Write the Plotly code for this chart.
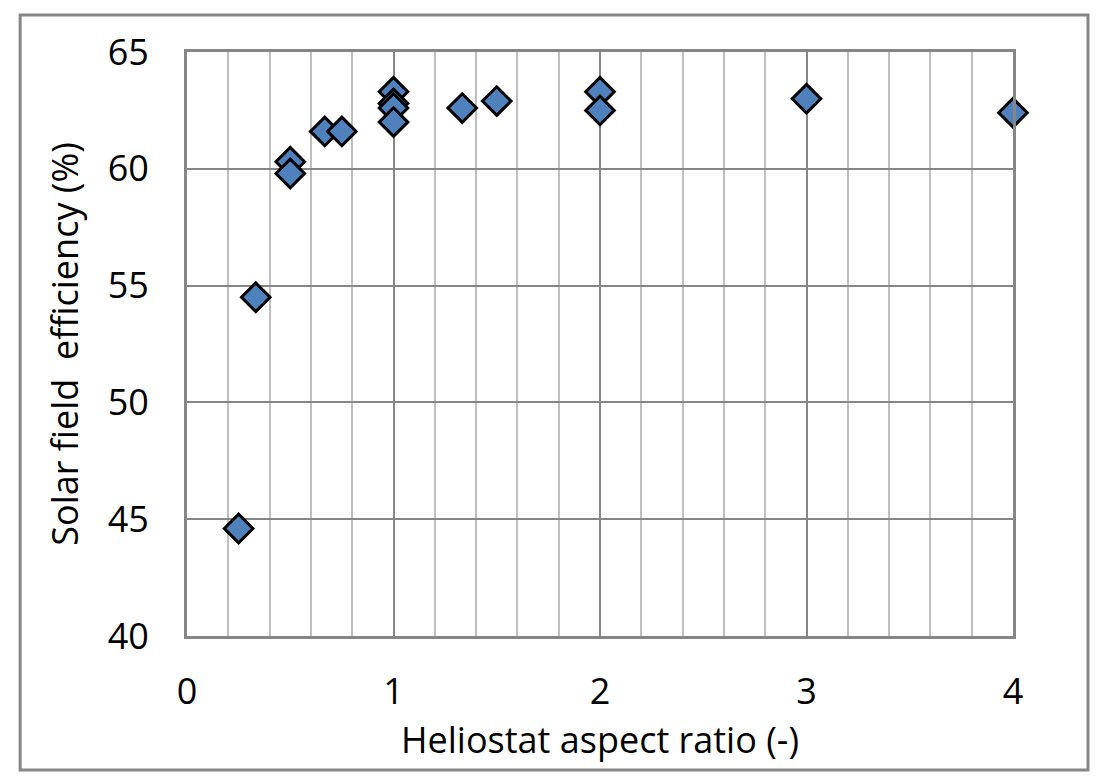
import plotly.graph_objects as go

# heliostat aspect ratio (-) vs solar field efficiency (%)
aspect_ratio = [0.25, 0.333, 0.5, 0.5, 0.667, 0.75, 1.0, 1.0, 1.0, 1.0, 1.333, 1.5, 2.0, 2.0, 3.0, 4.0]
efficiency = [44.6, 54.5, 60.3, 59.8, 61.6, 61.6, 63.3, 62.8, 62.6, 62.0, 62.6, 62.9, 63.3, 62.5, 63.0, 62.4]

x_ticks = [0, 1, 2, 3, 4]
y_ticks = [40, 45, 50, 55, 60, 65]

FONT = "Open Sans"
GRID_DARK = "#868686"
GRID_LIGHT = "#bfbfbf"

fig = go.Figure()
fig.add_trace(go.Scatter(
    x=aspect_ratio,
    y=efficiency,
    mode="markers",
    marker=dict(symbol="diamond", size=22, color="#4f81bd",
                line=dict(color="black", width=3)),
    cliponaxis=False,
    showlegend=False,
))

# page body has an 8px margin, so the figure is 8px smaller than the window
fig.update_layout(
    width=1090,
    height=773,
    paper_bgcolor="white",
    plot_bgcolor="white",
    margin=dict(l=179, r=85, t=44, b=145),
    font=dict(family=FONT, size=36, color="black"),
    xaxis=dict(
        range=[0, 4],
        tickvals=x_ticks,
        showgrid=True,
        gridcolor=GRID_DARK,
        gridwidth=2,
        minor=dict(dtick=0.2, showgrid=True, gridcolor=GRID_LIGHT, gridwidth=2),
        showline=True,
        linecolor=GRID_DARK,
        linewidth=3,
        mirror=True,
        zeroline=False,
        ticks="",
        ticklabelstandoff=22,
        title=dict(text="Heliostat aspect ratio (-)", standoff=0,
                   font=dict(family=FONT, size=36)),
    ),
    yaxis=dict(
        range=[40, 65],
        tickvals=y_ticks,
        showgrid=True,
        gridcolor=GRID_DARK,
        gridwidth=2,
        showline=True,
        linecolor=GRID_DARK,
        linewidth=3,
        mirror=True,
        zeroline=False,
        ticks="",
        ticklabelstandoff=28,
        title=dict(text="Solar field\u00a0 efficiency (%)", standoff=19,
                   font=dict(family=FONT, size=36)),
    ),
    shapes=[dict(
        type="rect", xref="paper", yref="paper",
        x0=-0.202, x1=1.0908, y0=-0.2295, y1=1.0634,
        line=dict(color=GRID_DARK, width=3),
        layer="below",
    )],
)

fig.write_html("out.html")
